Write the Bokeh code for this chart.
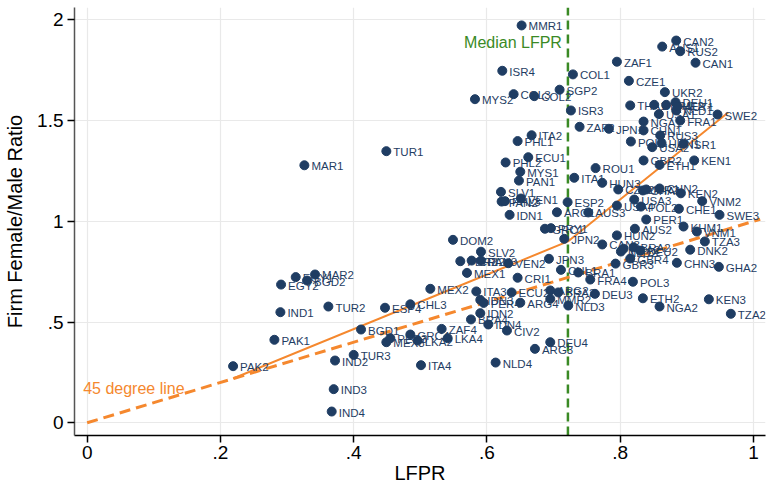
from bokeh.plotting import figure
from bokeh.models import Range1d, FixedTicker, Label, ColumnDataSource
from bokeh.embed import file_html
from bokeh.resources import INLINE
from bokeh.core.properties import value

# Country-wave observations: labour force participation rate vs firm female/male ratio
names = [
    "MMR1", "CAN2", "AUS1", "RUS2", "CAN1", "ZAF1", "COL1", "CZE1", "ISR4", "SGP2",
    "COL3", "COL2", "MYS2", "UKR2", "ISR3", "THA1", "GBR1", "CHE2", "DEU1", "NLD1",
    "AUT1", "USA1", "FRA1", "SWE2", "NGA1", "ZAF2", "JPN1", "CHN1", "RUS3", "POL1",
    "USA2", "HUN1", "ISR1", "GBR2", "ETH1", "KEN1", "ROU1", "ITA1", "TUR1", "MAR1",
    "PHL1", "ITA2", "ECU1", "PHL2", "MYS1", "PAN1", "SLV1", "PAN2", "PHL3", "VEN1",
    "IDN1", "ESP2", "ARG1", "AUS3", "HUN3", "CZE2", "GHA1", "ISR2", "CHN2", "KEN2",
    "VNM2", "CHE1", "SWE3", "USA3", "USA4", "POL2", "PER1", "KHM1", "AUS2", "HUN2",
    "VNM1", "TZA3", "DNK2", "CHN3", "GHA2", "ETH2", "KEN3", "NGA2", "TZA2", "POL3",
    "DEU3", "CAN3", "NLD2", "FRA2", "BRA2", "DEU2", "GBR4", "GBR3", "CHL1", "JPN3",
    "JPN2", "GRC1", "PRY1", "DOM2", "SLV2", "PER2", "CRI2", "PAN3", "VEN2", "MEX1",
    "CRI1", "MEX2", "ITA3", "ECU2", "ARG2", "BRA3", "IDN3", "PER4", "ARG4", "MMR2",
    "NLD3", "IDN2", "BRA4", "IDN4", "CIV2", "DEU4", "ARG3", "NLD4", "ITA4", "ZAF4",
    "LKA4", "GRC4", "LKA2", "MEX3", "PER3", "BGD1", "TUR3", "IND2", "IND3", "IND4",
    "PAK1", "PAK2", "IND1", "TUR2", "ESP4", "CHL3", "EGY2", "EGY1", "BGD2", "MAR2",
    "BRA1", "FRA4",
]
lfpr = [
    0.652, 0.884, 0.863, 0.890, 0.913, 0.795, 0.729, 0.813, 0.623, 0.709,
    0.640, 0.671, 0.582, 0.867, 0.726, 0.815, 0.851, 0.869, 0.883, 0.884,
    0.886, 0.858, 0.890, 0.946, 0.835, 0.739, 0.783, 0.835, 0.860, 0.816,
    0.848, 0.862, 0.895, 0.835, 0.859, 0.911, 0.763, 0.731, 0.449, 0.326,
    0.646, 0.667, 0.662, 0.628, 0.650, 0.648, 0.621, 0.622, 0.627, 0.651,
    0.634, 0.721, 0.705, 0.752, 0.773, 0.797, 0.834, 0.839, 0.859, 0.891,
    0.923, 0.888, 0.949, 0.821, 0.795, 0.831, 0.839, 0.895, 0.822, 0.795,
    0.915, 0.927, 0.905, 0.885, 0.948, 0.834, 0.933, 0.859, 0.966, 0.819,
    0.762, 0.773, 0.801, 0.805, 0.820, 0.830, 0.815, 0.793, 0.711, 0.693,
    0.716, 0.687, 0.696, 0.549, 0.591, 0.560, 0.577, 0.591, 0.632, 0.570,
    0.646, 0.515, 0.584, 0.637, 0.695, 0.707, 0.590, 0.595, 0.650, 0.695,
    0.722, 0.590, 0.576, 0.602, 0.630, 0.695, 0.672, 0.613, 0.501, 0.532,
    0.541, 0.485, 0.496, 0.449, 0.455, 0.411, 0.400, 0.372, 0.370, 0.367,
    0.281, 0.219, 0.290, 0.362, 0.447, 0.485, 0.291, 0.313, 0.330, 0.342,
    0.737, 0.755,
]
ratio = [
    1.972, 1.897, 1.867, 1.844, 1.787, 1.792, 1.729, 1.697, 1.747, 1.653,
    1.631, 1.621, 1.606, 1.641, 1.550, 1.575, 1.578, 1.578, 1.591, 1.550,
    1.570, 1.532, 1.500, 1.530, 1.495, 1.469, 1.459, 1.451, 1.426, 1.396,
    1.368, 1.388, 1.385, 1.302, 1.280, 1.302, 1.264, 1.216, 1.348, 1.278,
    1.398, 1.427, 1.318, 1.292, 1.246, 1.202, 1.146, 1.098, 1.100, 1.113,
    1.032, 1.095, 1.045, 1.044, 1.191, 1.158, 1.153, 1.158, 1.163, 1.139,
    1.100, 1.062, 1.032, 1.108, 1.078, 1.073, 1.009, 0.974, 0.963, 0.930,
    0.949, 0.900, 0.859, 0.794, 0.774, 0.618, 0.613, 0.577, 0.541, 0.700,
    0.640, 0.885, 0.850, 0.864, 0.871, 0.854, 0.815, 0.790, 0.759, 0.814,
    0.913, 0.963, 0.966, 0.908, 0.849, 0.802, 0.805, 0.805, 0.792, 0.744,
    0.720, 0.665, 0.652, 0.647, 0.657, 0.647, 0.610, 0.595, 0.596, 0.615,
    0.582, 0.544, 0.513, 0.488, 0.458, 0.400, 0.367, 0.299, 0.286, 0.466,
    0.420, 0.438, 0.408, 0.400, 0.420, 0.463, 0.337, 0.309, 0.167, 0.056,
    0.412, 0.281, 0.549, 0.577, 0.571, 0.588, 0.686, 0.723, 0.706, 0.736,
    0.746, 0.711,
]

# Piecewise-linear fit with a knot at the median LFPR
median_lfpr = 0.7215
fit_x = [0.219, 0.7215, 0.962]
fit_y = [0.220, 0.900, 1.540]

# 45 degree reference
diag = [0.0, 1.01]

x_ticks = [0, 0.2, 0.4, 0.6, 0.8, 1.0]
x_tick_labels = ["0", ".2", ".4", ".6", ".8", "1"]
y_ticks = [0, 0.5, 1.0, 1.5, 2.0]
y_tick_labels = ["0", ".5", "1", "1.5", "2"]

NAVY = "#1f3d63"
ORANGE = "#f5882e"
GREEN = "#3a8a25"
FONT = "Liberation Sans"

p = figure(width=769, height=488, output_backend="svg", toolbar_location=None,
           x_range=Range1d(-0.019, 1.018), y_range=Range1d(-0.063, 2.061),
           min_border_left=74, min_border_right=4, min_border_top=7,
           min_border_bottom=53)
p.outline_line_color = None
p.background_fill_color = "white"
p.border_fill_color = "white"

p.xaxis.ticker = FixedTicker(ticks=x_ticks)
p.yaxis.ticker = FixedTicker(ticks=y_ticks)
p.xaxis.major_label_overrides = dict(zip(x_ticks, x_tick_labels))
p.yaxis.major_label_overrides = dict(zip(y_ticks, y_tick_labels))
p.xaxis.axis_label = "LFPR"
p.yaxis.axis_label = "Firm Female/Male Ratio"
for ax in (p.xaxis[0], p.yaxis[0]):
    ax.major_label_text_font = FONT
    ax.major_label_text_font_size = "19px"
    ax.major_label_text_color = "black"
    ax.axis_label_text_font = FONT
    ax.axis_label_text_font_size = "20px"
    ax.axis_label_text_font_style = "normal"
    ax.axis_label_text_color = "black"
    ax.minor_tick_line_color = None
    ax.major_tick_out = 7
    ax.major_tick_in = 0
    ax.major_tick_line_color = "black"
    ax.major_tick_line_width = 1.5
    ax.axis_line_width = 1.5
p.xaxis.axis_line_color = "black"
p.yaxis.axis_line_color = "#555555"
p.yaxis.major_label_orientation = "horizontal"
p.xaxis.major_label_standoff = 3
p.yaxis.major_label_standoff = 4
p.xaxis.axis_label_standoff = 0
p.yaxis.axis_label_standoff = 8

p.xgrid.ticker = FixedTicker(ticks=x_ticks)
p.ygrid.ticker = FixedTicker(ticks=y_ticks)
p.grid.grid_line_color = "#e9e9e9"
p.grid.grid_line_width = 1.2

src = ColumnDataSource(dict(x=lfpr, y=ratio, name=names))

# median line
p.line(x=[median_lfpr, median_lfpr], y=[-0.063, 2.061], line_color=GREEN,
       line_width=2.5, line_dash="9 5")

# 45 degree line and fitted line
p.line(x=diag, y=diag, line_color=ORANGE, line_width=3, line_dash="11 6")
p.line(x=fit_x, y=fit_y, line_color=ORANGE, line_width=2)

p.scatter(x="x", y="y", source=src, size=9, fill_color=NAVY, line_color=NAVY)
p.text(x="x", y="y", text="name", source=src, x_offset=7, y_offset=1,
       text_baseline="middle", text_align="left", text_color=NAVY,
       text_font=value(FONT), text_font_size="11.5px")

p.add_layout(Label(x=median_lfpr, y=1.887, x_offset=-6, text="Median LFPR",
                   text_align="right", text_baseline="middle", text_color=GREEN,
                   text_font=FONT, text_font_size="16px"))
p.add_layout(Label(x=-0.006, y=0.17, text="45 degree line", text_align="left",
                   text_baseline="middle", text_color=ORANGE, text_font=FONT,
                   text_font_size="16px"))

open("out.html", "w").write(file_html(p, INLINE))
